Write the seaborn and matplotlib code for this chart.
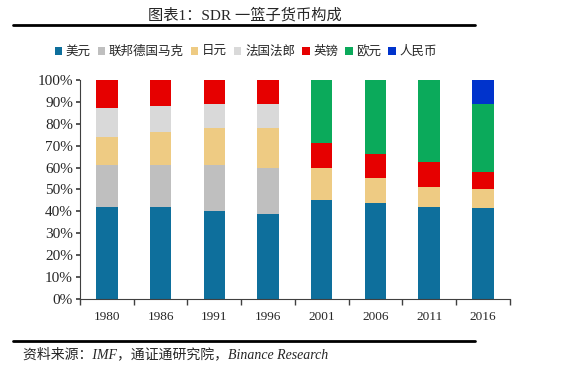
import matplotlib
matplotlib.use("Agg")
import matplotlib.pyplot as plt
import numpy as np
import seaborn as sns
from matplotlib.lines import Line2D
from matplotlib.patches import Patch

# SDR basket weights (%)
years = ["1980", "1986", "1991", "1996", "2001", "2006", "2011", "2016"]
currencies = ["美元", "联邦德国马克", "日元", "法国法郎", "英镑", "欧元", "人民币"]
usd = [42, 42, 40, 39, 45, 44, 41.9, 41.73]
dem = [19, 19, 21, 21, 0, 0, 0, 0]
jpy = [13, 15, 17, 18, 15, 11, 9.4, 8.33]
frf = [13, 12, 11, 11, 0, 0, 0, 0]
gbp = [13, 12, 11, 11, 11, 11, 11.3, 8.09]
eur = [0, 0, 0, 0, 29, 34, 37.4, 30.93]
cny = [0, 0, 0, 0, 0, 0, 0, 10.92]
colors = ["#0E6F9C", "#BFBFBF", "#EECB83", "#D9D9D9", "#E60000", "#0BAA5B", "#0033CC"]

sns.set_theme(style="ticks")
plt.rcParams["font.family"] = ["Liberation Serif", "Noto Sans CJK SC"]

fig = plt.figure(figsize=(5.88, 3.77), dpi=100)
ax = fig.add_axes([0.136, 0.207, 0.731, 0.581])

shares = np.array([usd, dem, jpy, frf, gbp, eur, cny])
cum = shares.cumsum(axis=0) / 100

# stacked bars: draw cumulative totals from the top layer down
for i in range(len(currencies) - 1, -1, -1):
    sns.barplot(x=years, y=cum[i], color=colors[i], width=0.4,
                saturation=1, linewidth=0, ax=ax)

ax.set_xlim(-0.5, len(years) - 0.5)
ax.set_ylim(0, 1)
ax.set_xticks(range(len(years)))
ax.set_xticklabels(years, fontsize=9.5)
ax.set_xticks(np.arange(-0.5, len(years), 1), minor=True)
ax.tick_params(axis="x", which="major", length=0, pad=9)
ax.tick_params(axis="x", which="minor", length=4, direction="out", color="#404040")
yt = np.linspace(0, 1, 11)
ax.set_yticks(yt)
ax.set_yticklabels([f"{int(round(v * 100))}%" for v in yt], fontsize=11)
ax.tick_params(axis="y", length=3, direction="out", color="#404040", pad=2)
ax.set_xlabel("")
ax.set_ylabel("")
for s in ["top", "right"]:
    ax.spines[s].set_visible(False)
for s in ["left", "bottom"]:
    ax.spines[s].set_color("#404040")
    ax.spines[s].set_linewidth(0.8)

handles = [Patch(facecolor=c, edgecolor="none") for c in colors]
fig.legend(handles, currencies, loc="center", bbox_to_anchor=(0.418, 0.862),
           ncol=7, frameon=False, handlelength=0.6, handleheight=0.6,
           handletextpad=0.3, columnspacing=0.55, fontsize=9)

fig.text(0.417, 0.96, "图表1：SDR 一篮子货币构成", ha="center", va="center", fontsize=11)
fig.add_artist(Line2D([13 / 588, 475 / 588], [1 - 24.5 / 377] * 2, color="black",
                      lw=2, transform=fig.transFigure))
fig.add_artist(Line2D([13 / 588, 475 / 588], [1 - 340.7 / 377] * 2, color="black",
                      lw=2, transform=fig.transFigure))
fig.text(23 / 588, 1 - 354 / 377, "资料来源：IMF，通证通研究院，Binance Research",
         style="italic", fontsize=10, va="center")

fig.savefig("out.png", dpi=100)
